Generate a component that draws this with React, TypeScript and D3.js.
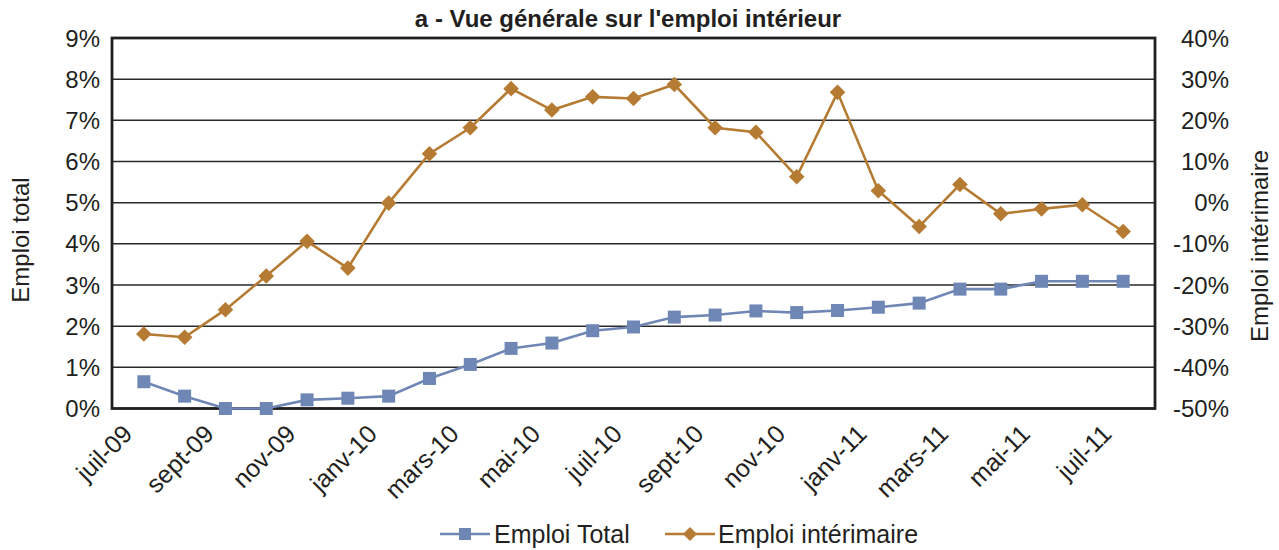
import React from 'react';
import * as d3 from 'd3';

// Months juil-09 .. juil-11 (one point per month)
const months = [
  'juil-09', 'août-09', 'sept-09', 'oct-09', 'nov-09', 'déc-09',
  'janv-10', 'févr-10', 'mars-10', 'avr-10', 'mai-10', 'juin-10',
  'juil-10', 'août-10', 'sept-10', 'oct-10', 'nov-10', 'déc-10',
  'janv-11', 'févr-11', 'mars-11', 'avr-11', 'mai-11', 'juin-11', 'juil-11',
];
const tickLabels = [
  'juil-09', 'sept-09', 'nov-09', 'janv-10', 'mars-10', 'mai-10', 'juil-10',
  'sept-10', 'nov-10', 'janv-11', 'mars-11', 'mai-11', 'juil-11',
];
// Emploi total, % (left axis)
const emploiTotal = [
  0.65, 0.3, 0.0, 0.0, 0.21, 0.25, 0.3, 0.73, 1.07, 1.46, 1.59, 1.89, 1.98,
  2.22, 2.27, 2.37, 2.33, 2.38, 2.46, 2.56, 2.9, 2.9, 3.09, 3.09, 3.09,
];
// Emploi intérimaire, % (right axis)
const emploiInterim = [
  -31.9, -32.7, -26.0, -17.8, -9.4, -15.9, -0.1, 11.9, 18.2, 27.7, 22.5, 25.7, 25.3,
  28.7, 18.2, 17.1, 6.3, 26.8, 2.9, -5.8, 4.4, -2.7, -1.5, -0.5, -7.0,
];
const leftTicks = [0, 1, 2, 3, 4, 5, 6, 7, 8, 9];
const rightTicks = [-50, -40, -30, -20, -10, 0, 10, 20, 30, 40];

const BLUE = '#6F87B5';
const GOLD = '#B67B33';
const INK = '#231f20';
const FONT = '"Liberation Sans", Arial, Helvetica, sans-serif';

export default function App() {
  const W = 1279;
  const H = 550;
  const m = { left: 112, right: 1155, top: 38, bottom: 408.5 };

  const x = d3.scalePoint<string>().domain(months).range([m.left, m.right]).padding(0.78);
  const yL = d3.scaleLinear().domain([0, 9]).range([m.bottom, m.top]);
  const yR = d3.scaleLinear().domain([-50, 40]).range([m.bottom, m.top]);

  const lineL = d3.line<number>().x((_, i) => x(months[i])!).y((d) => yL(d));
  const lineR = d3.line<number>().x((_, i) => x(months[i])!).y((d) => yR(d));

  const sq = 6.5;
  const dm = 7.8;
  const diamond = (cx: number, cy: number, r: number) =>
    `M${cx},${cy - r}L${cx + r},${cy}L${cx},${cy + r}L${cx - r},${cy}Z`;

  return (
    <svg width={W} height={H} style={{ position: 'absolute', left: 0, top: 0, background: '#fff' }} fontFamily={FONT}>
      <text x={628} y={27} textAnchor="middle" fontSize={24} fontWeight="bold" fill={INK}>
        a - Vue générale sur l'emploi intérieur
      </text>

      {/* grid */}
      {leftTicks.map((t) => (
        <line key={t} x1={m.left} x2={m.right} y1={yL(t)} y2={yL(t)} stroke="#2a2a2a" strokeWidth={1.5} />
      ))}
      <rect x={m.left} y={m.top} width={m.right - m.left} height={m.bottom - m.top}
        fill="none" stroke={INK} strokeWidth={2.8} />

      {/* left ticks */}
      {leftTicks.map((t) => (
        <text key={t} x={100} y={yL(t) + 8.5} textAnchor="end" fontSize={24} fill={INK}>{t}%</text>
      ))}
      {/* right ticks */}
      {rightTicks.map((t) => (
        <text key={t} x={1229} y={yR(t) + 8.5} textAnchor="end" fontSize={24} fill={INK}>{t}%</text>
      ))}

      <text transform={`translate(29,${240}) rotate(-90)`} textAnchor="middle" fontSize={24} fill={INK}>
        Emploi total
      </text>
      <text transform={`translate(1268,${246}) rotate(-90)`} textAnchor="middle" fontSize={24} fill={INK}>
        Emploi intérimaire
      </text>

      {/* x labels */}
      {tickLabels.map((l) => {
        const cx = x(l)!;
        return (
          <text key={l} transform={`translate(${cx - 10},${m.bottom + 27}) rotate(-45)`} textAnchor="end"
            fontSize={25} fill={INK}>{l}</text>
        );
      })}

      {/* series */}
      <path d={lineL(emploiTotal)!} fill="none" stroke={BLUE} strokeWidth={2.6} />
      {emploiTotal.map((v, i) => (
        <rect key={i} x={x(months[i])! - sq} y={yL(v) - sq} width={sq * 2} height={sq * 2} fill={BLUE} />
      ))}
      <path d={lineR(emploiInterim)!} fill="none" stroke={GOLD} strokeWidth={2.6} />
      {emploiInterim.map((v, i) => (
        <path key={i} d={diamond(x(months[i])!, yR(v), dm)} fill={GOLD} />
      ))}

      {/* legend */}
      <line x1={440} x2={490} y1={534} y2={534} stroke={BLUE} strokeWidth={2.6} />
      <rect x={465 - 6} y={534 - 6} width={12} height={12} fill={BLUE} />
      <text x={494} y={543} fontSize={25} fill={INK}>Emploi Total</text>
      <line x1={665} x2={715} y1={534} y2={534} stroke={GOLD} strokeWidth={2.6} />
      <path d={diamond(690, 534, 7)} fill={GOLD} />
      <text x={718} y={543} fontSize={25} fill={INK}>Emploi intérimaire</text>
    </svg>
  );
}
